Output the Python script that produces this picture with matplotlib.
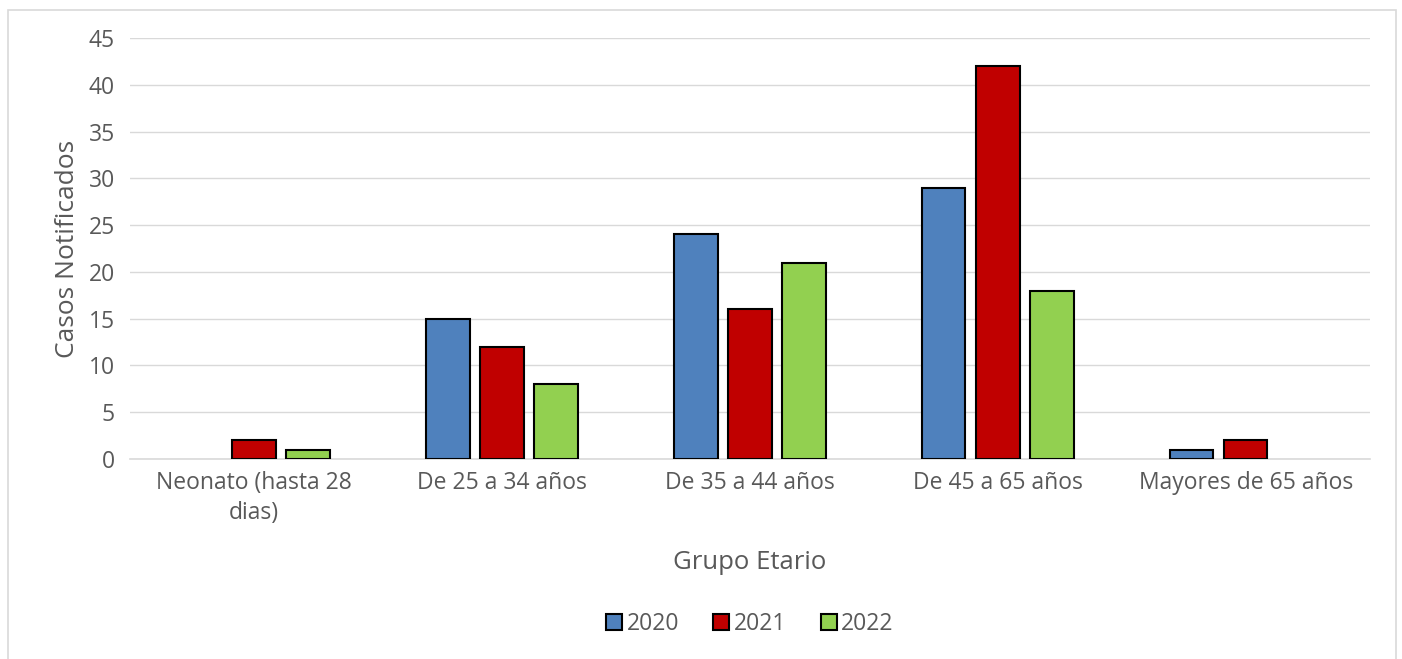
import numpy as np
import matplotlib.pyplot as plt
from matplotlib.patches import Rectangle

grupos = ["Neonato (hasta 28\ndias)", "De 25 a 34 años", "De 35 a 44 años",
          "De 45 a 65 años", "Mayores de 65 años"]
anios = ["2020", "2021", "2022"]
casos_2020 = [0, 15, 24, 29, 1]
casos_2021 = [2, 12, 16, 42, 2]
casos_2022 = [1, 8, 21, 18, 0]
colores = ["#4F81BD", "#C00000", "#92D050"]

gris = "#595959"
plt.rcParams['font.family'] = ['Open Sans', 'DejaVu Sans']

fig = plt.figure(figsize=(14.02, 6.59), dpi=100)
ax = fig.add_axes([0.0927, 0.3035, 0.8843, 0.6388])

# marco del gráfico
fig.patches.append(Rectangle((0.006, -0.02), 0.99, 1.005, transform=fig.transFigure,
                             fill=False, edgecolor="#d9d9d9", lw=1.2))

x = np.arange(len(grupos))
ancho = 0.175
paso = 0.218
for i, (serie, color, anio) in enumerate(zip([casos_2020, casos_2021, casos_2022], colores, anios)):
    serie = np.array(serie)
    pos = x + (i - 1) * paso
    mask = serie > 0
    ax.bar(pos[mask], serie[mask], width=ancho, color=color, edgecolor="black",
           linewidth=1.5, zorder=3, label=anio)

ax.set_xlim(-0.5, len(grupos) - 0.5)
ax.set_ylim(0, 45)
ax.set_yticks(range(0, 46, 5))
ax.set_xticks(x)
ax.set_xticklabels(grupos, fontsize=16.5, color=gris, linespacing=1.3)
ax.tick_params(axis='y', labelsize=16.5, labelcolor=gris, length=0, pad=11)
ax.tick_params(axis='x', length=0, pad=9)
ax.grid(axis='y', color="#d9d9d9", lw=1, zorder=0)
for s in ["top", "right", "left"]:
    ax.spines[s].set_visible(False)
ax.spines["bottom"].set_color("#d9d9d9")
ax.spines["bottom"].set_linewidth(1.2)

ax.set_ylabel("Casos Notificados", fontsize=19, color=gris, labelpad=6)
ax.set_xlabel("Grupo Etario", fontsize=18.5, color=gris, labelpad=18)

leg = ax.legend(loc="upper center", bbox_to_anchor=(0.5, -0.315), ncol=3, frameon=False,
                fontsize=16.5, handlelength=0.7, handleheight=0.7, handletextpad=0.2,
                columnspacing=1.5)
for t in leg.get_texts():
    t.set_color(gris)

fig.savefig("out.png", dpi=100)
